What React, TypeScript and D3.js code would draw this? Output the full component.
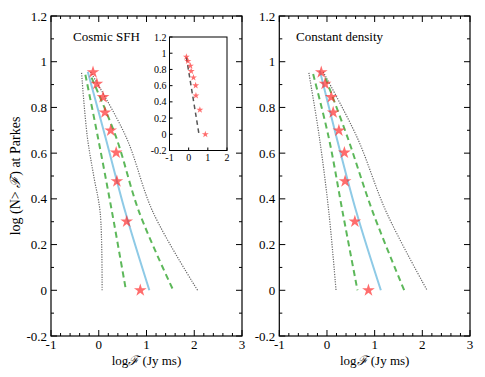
import React from "react";
import * as d3 from "d3";

// ---- data ----
const logCounts = [0.954, 0.903, 0.845, 0.778, 0.699, 0.602, 0.477, 0.301, 0];
const starLogF = [-0.12, -0.04, 0.09, 0.13, 0.25, 0.365, 0.38, 0.585, 0.87];

// model curves: [logF, logN]
const sfhMedian: [number, number][] = [[-0.23, 0.956], [0.14, 0.67], [0.56, 0.34], [1.06, 0]];
const sfhLow1: [number, number][] = [[-0.28, 0.943], [-0.02, 0.672], [0.28, 0.34], [0.57, 0]];
const sfhHigh1: [number, number][] = [[-0.15, 0.93], [0.36, 0.672], [0.85, 0.34], [1.56, 0]];
const sfhLow2: [number, number][] = [[-0.36, 0.951], [-0.24, 0.672], [-0.105, 0.5], [0.03, 0.34], [0.07, 0]];
const sfhHigh2: [number, number][] = [[-0.17, 0.955], [0.57, 0.672], [1.14, 0.34], [2.07, 0]];

const cdMedian: [number, number][] = [[-0.15, 0.961], [0.2, 0.67], [0.62, 0.34], [1.13, 0]];
const cdLow1: [number, number][] = [[-0.29, 0.946], [0.035, 0.67], [0.33, 0.34], [0.64, 0]];
const cdHigh1: [number, number][] = [[-0.03, 0.928], [0.43, 0.67], [0.965, 0.34], [1.62, 0]];
const cdLow2: [number, number][] = [[-0.38, 0.951], [-0.16, 0.67], [0.04, 0.34], [0.19, 0]];
const cdHigh2: [number, number][] = [[-0.08, 0.955], [0.63, 0.67], [1.25, 0.34], [2.1, 0]];

const insetLine: [number, number][] = [[-0.12, 0.95], [0.54, 0]];

const xTicks = [-1, 0, 1, 2, 3];
const yTicks = [-0.2, 0, 0.2, 0.4, 0.6, 0.8, 1, 1.2];
const insetXTicks = [-1, 0, 1, 2];
const insetYTicks = [-0.2, 0, 0.2, 0.4, 0.6, 0.8, 1, 1.2];

const FONT = "'Liberation Serif', 'DejaVu Serif', serif";
const STAR = "rgba(255,40,40,0.68)";
const BLUE = "#8ecae6";
const GREEN = "#5db85a";
const GRAY = "#666";

function fmt(v: number) {
  if (Math.abs(v) < 1e-9) return "0";
  if (Math.abs(v - Math.round(v)) < 1e-9) return String(Math.round(v));
  return v.toFixed(1);
}

type PanelProps = {
  x0: number; x1: number; title: string; titleX: number;
  median: [number, number][]; low1: [number, number][]; high1: [number, number][];
  low2: [number, number][]; high2: [number, number][];
};

const Y0 = 16, Y1 = 336;

function Panel({ x0, x1, title, titleX, median, low1, high1, low2, high2 }: PanelProps) {
  const x = d3.scaleLinear().domain([-1, 3]).range([x0, x1]);
  const y = d3.scaleLinear().domain([-0.2, 1.2]).range([Y1, Y0]);
  const line = d3.line<[number, number]>().x(d => x(d[0])).y(d => y(d[1])).curve(d3.curveCatmullRom);
  const star = d3.symbol().type(d3.symbolStar).size(50)();
  const minorX = d3.range(-1, 3.001, 0.2);
  const minorY = d3.range(-0.2, 1.2001, 0.1);
  return (
    <g>
      {/* curves */}
      <path d={line(low2)!} fill="none" stroke={GRAY} strokeWidth={1.2} strokeDasharray="1.2,1.3" />
      <path d={line(high2)!} fill="none" stroke={GRAY} strokeWidth={1.2} strokeDasharray="1.2,1.3" />
      <path d={line(low1)!} fill="none" stroke={GREEN} strokeWidth={2} strokeDasharray="6,4" />
      <path d={line(high1)!} fill="none" stroke={GREEN} strokeWidth={2} strokeDasharray="6,4" />
      <path d={line(median)!} fill="none" stroke={BLUE} strokeWidth={2} />
      {starLogF.map((f, i) => (
        <path key={i} d={star} transform={`translate(${x(f)},${y(logCounts[i])})`} fill={STAR} />
      ))}
      {/* ticks */}
      {minorX.map((v, i) => {
        const major = Math.abs(v - Math.round(v)) < 1e-6;
        const len = major ? 6 : 3;
        return (
          <g key={"tx" + i}>
            <line x1={x(v)} x2={x(v)} y1={Y1} y2={Y1 - len} stroke="#000" strokeWidth={1} />
            <line x1={x(v)} x2={x(v)} y1={Y0} y2={Y0 + len} stroke="#000" strokeWidth={1} />
          </g>
        );
      })}
      {minorY.map((v, i) => {
        const major = Math.abs(v * 5 - Math.round(v * 5)) < 1e-6;
        const len = major ? 6 : 3;
        return (
          <g key={"ty" + i}>
            <line x1={x0} x2={x0 + len} y1={y(v)} y2={y(v)} stroke="#000" strokeWidth={1} />
            <line x1={x1} x2={x1 - len} y1={y(v)} y2={y(v)} stroke="#000" strokeWidth={1} />
          </g>
        );
      })}
      <rect x={x0} y={Y0} width={x1 - x0} height={Y1 - Y0} fill="none" stroke="#000" strokeWidth={1.2} />
      {xTicks.map(v => (
        <text key={"lx" + v} x={x(v)} y={349} textAnchor="middle" fontFamily={FONT} fontSize={13}>{fmt(v)}</text>
      ))}
      {yTicks.map(v => (
        <text key={"ly" + v} x={x0 - 4} y={y(v) + 4.5} textAnchor="end" fontFamily={FONT} fontSize={13}>{fmt(v)}</text>
      ))}
      <text x={(x0 + x1) / 2} y={365} textAnchor="middle" fontFamily={FONT} fontSize={13}>log<tspan fontFamily="'DejaVu Serif', serif" fontStyle="italic">ℱ</tspan> (Jy ms)</text>
      <text x={titleX} y={41} fontFamily={FONT} fontSize={13}>{title}</text>
    </g>
  );
}

function Inset() {
  const ix0 = 169.5, ix1 = 227, iy0 = 37, iy1 = 150.5;
  const x = d3.scaleLinear().domain([-1, 2]).range([ix0, ix1]);
  const y = d3.scaleLinear().domain([-0.2, 1.2]).range([iy1, iy0]);
  const line = d3.line<[number, number]>().x(d => x(d[0])).y(d => y(d[1]));
  const star = d3.symbol().type(d3.symbolStar).size(15)();
  return (
    <g>
      <rect x={ix0} y={iy0} width={ix1 - ix0} height={iy1 - iy0} fill="#fff" stroke="#000" strokeWidth={1} />
      <path d={line(insetLine)!} fill="none" stroke="#555" strokeWidth={1.5} strokeDasharray="4.5,3.5" />
      {starLogF.map((f, i) => (
        <path key={i} d={star} transform={`translate(${x(f)},${y(logCounts[i])})`} fill={STAR} />
      ))}
      {insetYTicks.map(v => (
        <g key={"iy" + v}>
          <line x1={ix0} x2={ix0 + 3} y1={y(v)} y2={y(v)} stroke="#000" />
          <text x={ix0 - 3} y={y(v) + 3.5} textAnchor="end" fontFamily={FONT} fontSize={10}>{fmt(v)}</text>
        </g>
      ))}
      {insetXTicks.map(v => (
        <g key={"ix" + v}>
          <line x1={x(v)} x2={x(v)} y1={iy1} y2={iy1 - 3} stroke="#000" />
          <text x={x(v)} y={iy1 + 10.5} textAnchor="middle" fontFamily={FONT} fontSize={10}>{fmt(v)}</text>
        </g>
      ))}
    </g>
  );
}

export default function App() {
  return (
    <svg width={485} height={377} style={{ position: "absolute", left: 0, top: 0, background: "#fff" }}>
      <rect width={485} height={377} fill="#fff" />
      <Panel x0={51} x1={242} title="Cosmic SFH" titleX={73} median={sfhMedian} low1={sfhLow1} high1={sfhHigh1} low2={sfhLow2} high2={sfhHigh2} />
      <Inset />
      <Panel x0={279.3} x1={470} title="Constant density" titleX={296} median={cdMedian} low1={cdLow1} high1={cdHigh1} low2={cdLow2} high2={cdHigh2} />
      <text transform={`translate(20,176) rotate(-90)`} textAnchor="middle" fontFamily={FONT} fontSize={14}>log (N{">"} <tspan fontFamily="'DejaVu Serif', serif" fontStyle="italic">ℱ</tspan>) at Parkes</text>
    </svg>
  );
}
